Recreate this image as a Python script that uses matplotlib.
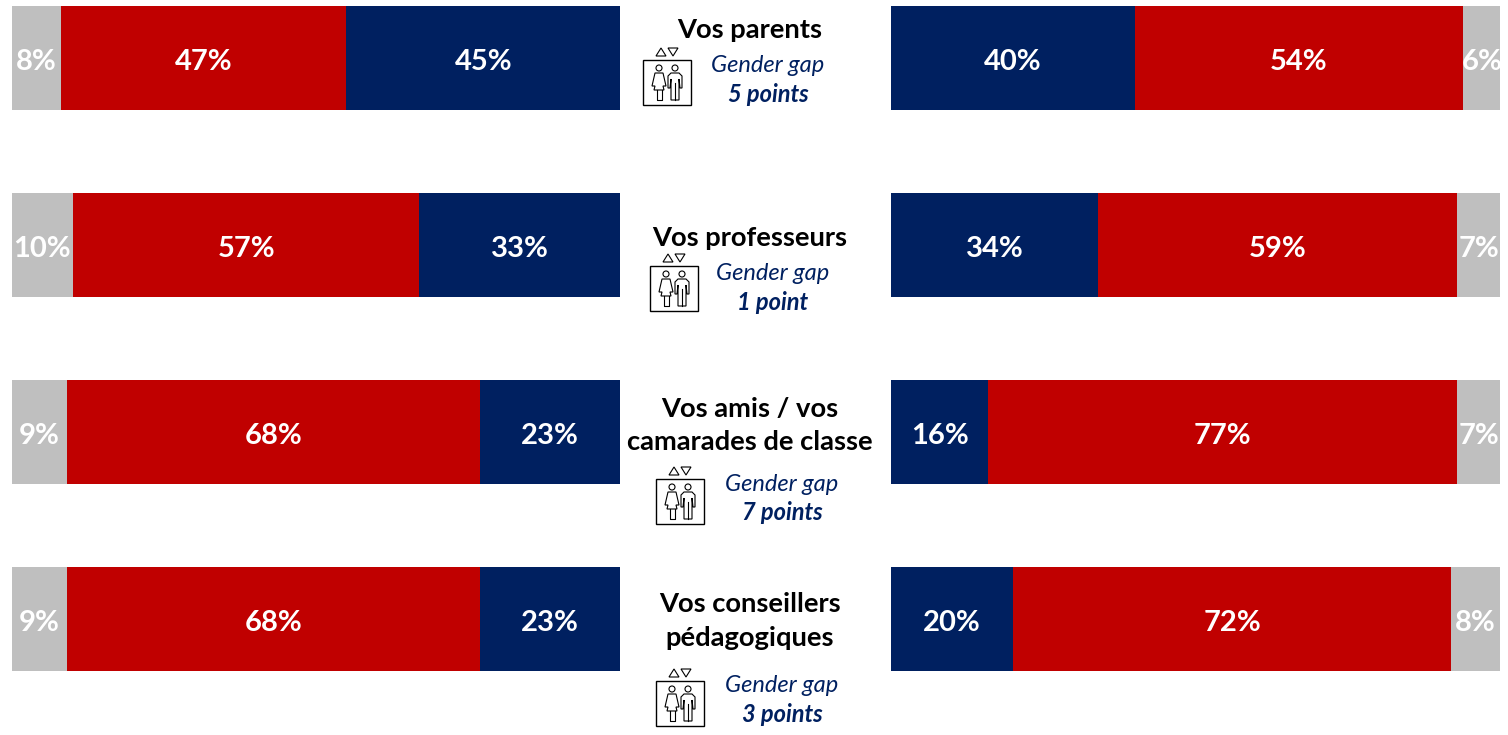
import matplotlib.pyplot as plt
from matplotlib.patches import Rectangle, Polygon, Circle

plt.rcParams['font.family'] = ['Lato', 'DejaVu Sans']

W, H = 1508, 735

# values, top row first
grey_left = [8, 10, 9, 9]
red_left = [47, 57, 68, 68]
blue_left = [45, 33, 23, 23]

blue_right = [40, 34, 16, 20]
red_right = [54, 59, 77, 72]
grey_right = [6, 7, 7, 8]

gaps = ['5 points', '1 point', '7 points', '3 points']
titles = ['Vos parents', 'Vos professeurs', 'Vos amis / vos\ncamarades de classe', 'Vos conseillers\npédagogiques']

GREY = '#BFBFBF'
RED = '#C00000'
NAVY = '#002060'

# pixel positions of the centre column: title y, text x, gender gap y, gap value y, icon x, icon y
title_y = [30, 238, 425, 621]
text_x = [768, 773, 782, 782]
gap_y = [65, 273, 484, 686]
value_y = [94, 302, 513, 715]
icon_x = [643, 650, 656, 656]
icon_y = [60, 266, 479, 681]


def stacked(ax, segments):
    left = [0, 0, 0, 0]
    for values, color in segments:
        ax.barh(range(4), values, left=left, height=104 / 187, color=color, linewidth=0)
        for i, v in enumerate(values):
            ax.annotate(f'{v}%', (left[i] + v / 2, i), xytext=(0, -3), textcoords='offset points',
                        ha='center', va='center', color='white', fontsize=21, fontweight='bold')
        left = [a + b for a, b in zip(left, values)]
    ax.set_xlim(0, 100)
    ax.set_ylim(3 + 52 / 187, -52 / 187)
    ax.axis('off')


def person(ax, x, y, woman):
    c = 'black'
    ax.add_patch(Circle((x, y - 12), 3, fc='white', ec=c, lw=0.8))
    if woman:
        pts = [(x - 4, y - 7), (x + 4, y - 7), (x + 7, y + 6), (x + 4, y + 6), (x + 5, y + 10),
               (x - 5, y + 10), (x - 4, y + 6), (x - 7, y + 6)]
        ax.add_patch(Polygon(pts, closed=True, fc='white', ec=c, lw=0.8))
        ax.plot([x - 2.5, x - 2.5, x + 2.5, x + 2.5], [y + 10, y + 20, y + 20, y + 10], color=c, lw=0.8)
    else:
        pts = [(x - 4, y - 7), (x + 4, y - 7), (x + 7, y - 4), (x + 7, y + 8), (x + 5, y + 8),
               (x + 4, y - 1), (x + 4, y + 20), (x - 4, y + 20), (x - 4, y - 1), (x - 5, y + 8),
               (x - 7, y + 8), (x - 7, y - 4)]
        ax.add_patch(Polygon(pts, closed=True, fc='white', ec=c, lw=0.8))
        ax.plot([x, x], [y + 3, y + 20], color=c, lw=0.8)


def icon(ax, x, y):
    ax.add_patch(Rectangle((x, y), 48, 45, fc='white', ec='black', lw=1))
    # up arrow on the left, down arrow on the right
    ax.add_patch(Polygon([(x + 13, y - 4), (x + 23, y - 4), (x + 18, y - 12)], closed=True,
                         fc='white', ec='black', lw=0.8))
    ax.add_patch(Polygon([(x + 25, y - 12), (x + 35, y - 12), (x + 30, y - 4)], closed=True,
                         fc='white', ec='black', lw=0.8))
    person(ax, x + 16, y + 20, True)
    person(ax, x + 32, y + 20, False)


fig = plt.figure(figsize=(W / 100, H / 100), dpi=100)

ax_l = fig.add_axes([12 / W, 1 - 671 / H, 608 / W, 665 / H])
stacked(ax_l, [(grey_left, GREY), (red_left, RED), (blue_left, NAVY)])

ax_r = fig.add_axes([891 / W, 1 - 671 / H, 609 / W, 665 / H])
stacked(ax_r, [(blue_right, NAVY), (red_right, RED), (grey_right, GREY)])

ax_c = fig.add_axes([0, 0, 1, 1], facecolor='none')
ax_c.set_xlim(0, W)
ax_c.set_ylim(H, 0)
ax_c.axis('off')

for i in range(4):
    ax_c.text(750, title_y[i], titles[i], ha='center', va='center', color='black', fontsize=19.7,
              fontweight='bold', linespacing=1.45)
    ax_c.text(text_x[i], gap_y[i], 'Gender gap', ha='center', va='center', color=NAVY, fontsize=17,
              fontstyle='italic')
    ax_c.text(text_x[i], value_y[i], gaps[i], ha='center', va='center', color=NAVY, fontsize=17,
              fontstyle='italic', fontweight='bold')
    icon(ax_c, icon_x[i], icon_y[i])

fig.savefig('out.png', dpi=100)
